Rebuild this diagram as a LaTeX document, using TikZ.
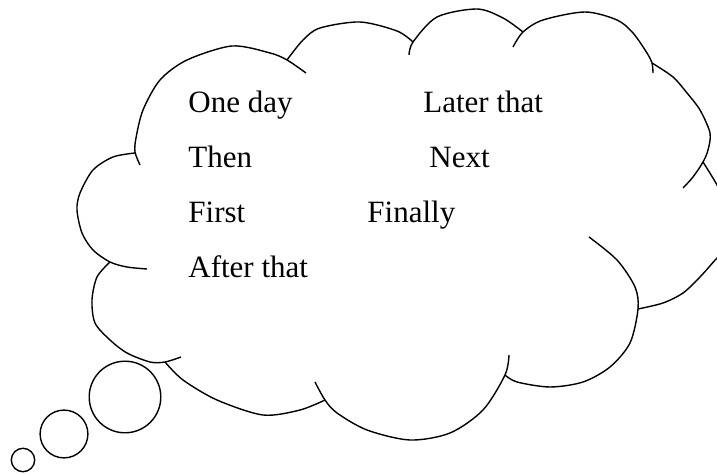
\documentclass[tikz,border=0pt]{standalone}
\usepackage{fontspec}
\setmainfont{Liberation Serif}

\tikzstyle{lobe}=[line width=0.7pt,line join=round]
\tikzstyle{bubble}=[circle,draw,line width=0.7pt,inner sep=0pt]
\tikzstyle{word}=[anchor=base west,inner sep=0pt,font=\fontsize{15.5}{18}\selectfont]

\begin{document}
\begin{tikzpicture}[x=0.5pt,y=-0.5pt]
    \useasboundingbox (0,0) rectangle (717,474);
    \clip (0,0) rectangle (717,474);
    %Cloud lobes
    \draw[lobe] plot[smooth] coordinates {(140,165) (135,152) (136,138) (143,110) (160,80) (187,60) (232,46) (270,53) (287,60) (306,73)};
    \draw[lobe] plot[smooth] coordinates {(287,60) (303,40) (320,28) (360,22) (397,31) (413,42)};
    \draw[lobe] plot[smooth] coordinates {(409,55) (413,42) (437,17) (477,9) (503,18) (523,32)};
    \draw[lobe] plot[smooth] coordinates {(513,47) (523,32) (543,20) (585,12) (617,20) (633,33) (647,53) (652,63) (653,73)};
    \draw[lobe] plot[smooth] coordinates {(652,63) (673,77) (687,93) (700,110) (710,133) (708,150) (703,162) (693,177) (683,188)};
    \draw[lobe] plot[smooth] coordinates {(703,162) (717,185) (729,210) (734,230) (730,245) (717,258) (700,277) (683,293) (663,303) (638,309)};
    \draw[lobe] plot[smooth] coordinates {(589,237) (617,260) (635,287) (638,309) (630,343) (610,367) (583,382) (550,387) (517,382) (505,375)};
    \draw[lobe] plot[smooth] coordinates {(509,355) (505,375) (483,410) (450,433) (410,440) (367,430) (337,413) (325,400) (315,382)};
    \draw[lobe] plot[smooth] coordinates {(325,400) (300,410) (263,415) (217,400) (183,380) (165,362)};
    \draw[lobe] plot[smooth] coordinates {(110,262) (97,277) (92,300) (95,323) (110,340) (127,353) (150,362) (165,362) (181,357)};
    \draw[lobe] plot[smooth] coordinates {(135,153) (113,157) (93,170) (80,193) (77,210) (82,233) (93,250) (110,262) (127,267) (147,269)};
    %Thought bubbles
    \foreach \pos/\name/\size in {{(23,460)/small/11.7pt}, {(64,434)/middle/23.9pt}, {(125,397)/large/35.8pt}}
    \node[bubble,minimum size=\size] (\name) at \pos {};
    %Words
    \foreach \pos/\name/\txt in {{(188,113)/oneday/One day}, {(423,113)/later/Later that},
                                 {(188,168)/then/Then}, {(429,168)/next/Next},
                                 {(188,223)/first/First}, {(367,223)/finally/Finally},
                                 {(188,278)/after/After that}}
    \node[word] (\name) at \pos {\txt};
\end{tikzpicture}
\end{document}
